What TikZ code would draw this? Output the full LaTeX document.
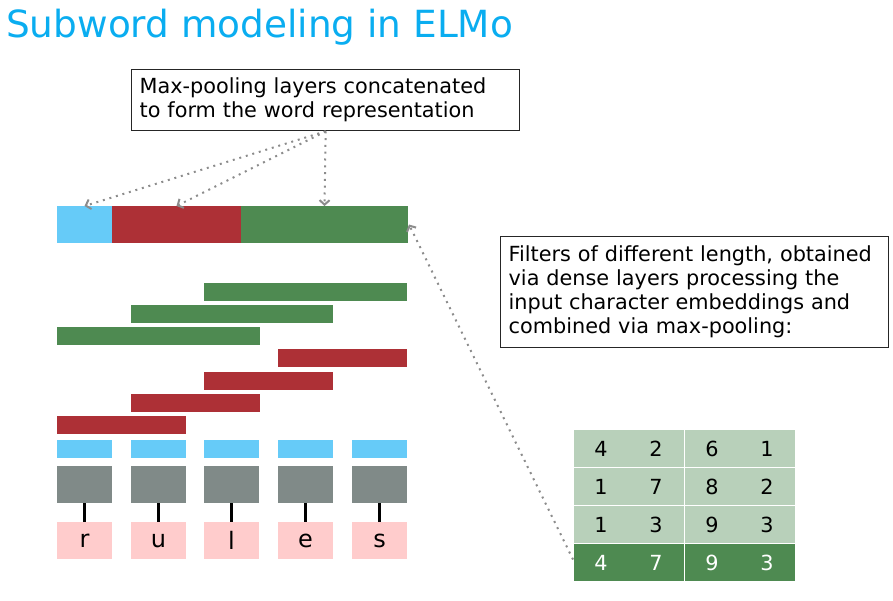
\documentclass[tikz,border=0pt]{standalone}
\usepackage{fontspec}
\setmainfont{DejaVu Sans}
\usetikzlibrary{arrows.meta,positioning}
\definecolor{titleblue}{HTML}{0AADF0}
\definecolor{charblue}{HTML}{66CBF8}
\definecolor{filtred}{HTML}{AD3036}
\definecolor{filtgreen}{HTML}{4E8A51}
\definecolor{embgray}{HTML}{808A88}
\definecolor{charpink}{HTML}{FFCCCC}
\definecolor{poolgreen}{HTML}{B8D0BA}
\definecolor{dots}{HTML}{8C8C8C}

\begin{document}
\begin{tikzpicture}[x=1pt, y=-1pt,
  >={Straight Barb[length=4.5pt,width=10pt]},
  bar/.style={inner sep=0pt, outer sep=0pt, anchor=north west, minimum height=18pt},
  note/.style={draw=black!85, line width=1.3pt, anchor=north west, align=left, inner xsep=8pt,
    font=\fontsize{20.8}{24}\selectfont},
  cell/.style={bar, fill=poolgreen, minimum width=110pt, minimum height=37pt},
  num/.style={font=\fontsize{20.8}{24}\selectfont},
  link/.style={->, dots, line width=2pt, dash pattern=on 2pt off 4.8pt}]
  \useasboundingbox (0,0) rectangle (893,600);

  % title
  \node[anchor=base west, inner sep=0pt, text=titleblue,
    font=\fontsize{37.4}{44}\selectfont] (title) at (6,37) {Subword modeling in ELMo};

  % annotations
  \node[note, minimum width=388pt, minimum height=61pt, text width=372pt] (concat) at (131,69)
    {Max-pooling layers concatenated\\to form the word representation};
  \node[note, minimum width=388pt, minimum height=111pt, text width=372pt] (filters) at (500,236)
    {Filters of different length, obtained\\via dense layers processing the\\input character embeddings and\\combined via max-pooling:};

  % word representation
  \node[bar, fill=charblue, minimum width=55pt, minimum height=37pt] (wblue) at (57,206) {};
  \node[bar, fill=filtred, minimum width=129pt, minimum height=37pt] (wred) at (112,206) {};
  \node[bar, fill=filtgreen, minimum width=167pt, minimum height=37pt] (wgreen) at (241,206) {};

  % filters
  \foreach \x/\y/\w/\col [count=\k] in {204/283/203/filtgreen, 131/305/202/filtgreen, 57/327/203/filtgreen,
      278/349/129/filtred, 204/372/129/filtred, 131/394/129/filtred, 57/416/129/filtred}
    \node[bar, fill=\col, minimum width=\w pt] (f\k) at (\x,\y) {};

  % characters
  \foreach \x/\ch [count=\k] in {57/r, 131/u, 204/l, 278/e, 352/s} {
    \node[bar, fill=charblue, minimum width=55pt] (cb\k) at (\x,440) {};
    \node[bar, fill=embgray, minimum width=55pt, minimum height=37pt] (emb\k) at (\x,466) {};
    \node[bar, fill=charpink, minimum width=55pt, minimum height=37pt,
      font=\fontsize{24}{28}\selectfont] (ch\k) at (\x,522) {\ch};
    \draw[line width=2.4pt] (emb\k.south) -- (ch\k.north);
  }

  % max-pooling table
  \foreach \row/\y/\a/\b/\c/\d in {1/430/4/2/6/1, 2/468/1/7/8/2, 3/506/1/3/9/3, 4/544/4/7/9/3} {
    \node[cell] (p\row l) at (574,\y) {};
    \node[cell] (p\row r) at (685,\y) {};
    \node[num] at (601,\y+18.5) {\a};
    \node[num] at (656,\y+18.5) {\b};
    \node[num] at (712,\y+18.5) {\c};
    \node[num] at (767,\y+18.5) {\d};
  }
  \node[cell, fill=filtgreen] (p4l) at (574,544) {};
  \node[cell, fill=filtgreen] (p4r) at (685,544) {};
  \foreach \x/\v in {601/4, 656/7, 712/9, 767/3}
    \node[num, text=white] at (\x,562.5) {\v};

  % pointers
  \draw[link] (concat.south) -- (wblue.north);
  \draw[link] (concat.south) -- (wred.north);
  \draw[link] (concat.south) -- (wgreen.north);
  \draw[link] ([xshift=-1pt,yshift=3pt]p4l.west) -- ([xshift=1pt]wgreen.east);
\end{tikzpicture}
\end{document}
